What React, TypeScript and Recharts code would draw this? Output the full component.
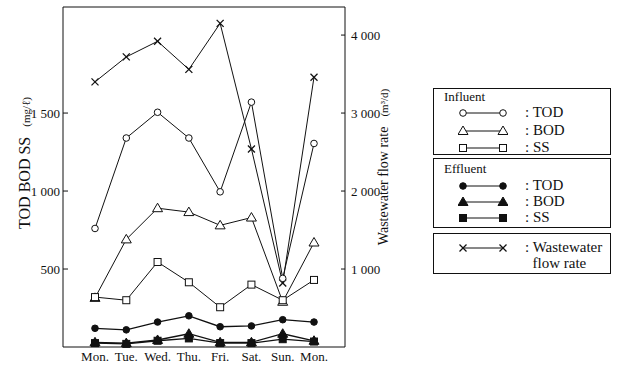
import { Legend, Line, LineChart, XAxis, YAxis } from "recharts";

const days = ["Mon.", "Tue.", "Wed.", "Thu.", "Fri.", "Sat.", "Sun.", "Mon."];
// influent (mg/l)
const inTOD = [760, 1340, 1505, 1340, 995, 1570, 440, 1305];
const inBOD = [315, 690, 890, 865, 780, 830, 290, 670];
const inSS = [320, 300, 545, 415, 255, 400, 300, 430];
// effluent (mg/l)
const effTOD = [120, 110, 160, 200, 130, 135, 175, 160];
const effBOD = [30, 25, 45, 85, 30, 30, 85, 40];
const effSS = [25, 20, 40, 55, 25, 25, 50, 35];
// wastewater flow (m3/d)
const flow = [3400, 3720, 3920, 3560, 4150, 2540, 820, 3460];

const leftTicks = [500, 1000, 1500];
const rightTicks = [1000, 2000, 3000, 4000];

const FONT = "Liberation Serif, Times New Roman, Times, DejaVu Serif, serif";
const INK = "#111";

const rows = days.map((day, i) => ({
  day,
  inTOD: inTOD[i],
  inBOD: inBOD[i],
  inSS: inSS[i],
  effTOD: effTOD[i],
  effBOD: effBOD[i],
  effSS: effSS[i],
  flow: flow[i],
}));

const fmt = (v: number) => (v >= 1000 ? `${Math.floor(v / 1000)} ${String(v % 1000).padStart(3, "0")}` : String(v));

type Shape = "circle" | "triangle" | "square" | "x";

function Marker({ cx, cy, shape, filled }: { cx: number; cy: number; shape: Shape; filled: boolean }) {
  const fill = filled ? INK : "#fff";
  if (shape === "circle") return <circle cx={cx} cy={cy} r={3.3} fill={fill} stroke={INK} strokeWidth={1} />;
  if (shape === "triangle")
    return (
      <polygon
        points={`${cx},${cy - 5} ${cx - 5},${cy + 3.5} ${cx + 5},${cy + 3.5}`}
        fill={fill}
        stroke={INK}
        strokeWidth={1}
      />
    );
  if (shape === "square") return <rect x={cx - 3.5} y={cy - 3.5} width={7} height={7} fill={fill} stroke={INK} strokeWidth={1} />;
  return (
    <g stroke={INK} strokeWidth={1.3}>
      <line x1={cx - 3.5} y1={cy - 3.5} x2={cx + 3.5} y2={cy + 3.5} />
      <line x1={cx - 3.5} y1={cy + 3.5} x2={cx + 3.5} y2={cy - 3.5} />
    </g>
  );
}

const dotFor = (shape: Shape, filled: boolean) => (p: any) =>
  <Marker key={`${shape}-${filled}-${p.index}`} cx={p.cx} cy={p.cy} shape={shape} filled={filled} />;

function LeftTitle() {
  return (
    <text transform="translate(30,163) rotate(-90)" textAnchor="middle" fontFamily={FONT} fontSize={16} fill={INK}>
      TOD BOD SS
      <tspan fontSize={11} dx={10}>
        (mg/ℓ)
      </tspan>
    </text>
  );
}

function RightTitle() {
  return (
    <text transform="translate(388,167) rotate(-90)" textAnchor="middle" fontFamily={FONT} fontSize={14} fill={INK}>
      Wastewater flow rate
      <tspan fontSize={11} dx={10}>
        (m³/d)
      </tspan>
    </text>
  );
}

function Sym({ shape, filled }: { shape: Shape; filled: boolean }) {
  return (
    <svg width={50} height={12} style={{ display: "block" }}>
      <line x1={5} y1={6} x2={45} y2={6} stroke={INK} strokeWidth={1} />
      <Marker cx={5} cy={6} shape={shape} filled={filled} />
      <Marker cx={45} cy={6} shape={shape} filled={filled} />
    </svg>
  );
}

function Row({ shape, filled, label, top }: { shape: Shape; filled: boolean; label: string; top: number }) {
  return (
    <div style={{ position: "absolute", left: 24, top, height: 15, display: "flex", alignItems: "center" }}>
      <Sym shape={shape} filled={filled} />
      <span style={{ marginLeft: 17, fontSize: 15, lineHeight: "15px" }}>: {label}</span>
    </div>
  );
}

const boxStyle = (top: number, height: number): React.CSSProperties => ({
  position: "absolute",
  left: 0,
  top,
  width: 178,
  height,
  border: `1px solid ${INK}`,
  boxSizing: "border-box",
});

function LegendBoxes() {
  return (
    <div style={{ position: "relative", width: 180, height: 190, fontFamily: FONT, color: INK, fontWeight: 400 }}>
      <div style={boxStyle(0, 67)}>
        <div style={{ position: "absolute", left: 10, top: 1, fontSize: 13, lineHeight: "14px" }}>Influent</div>
        <Row shape="circle" filled={false} label="TOD" top={16} />
        <Row shape="triangle" filled={false} label="BOD" top={34} />
        <Row shape="square" filled={false} label="SS" top={51} />
      </div>
      <div style={boxStyle(70, 70)}>
        <div style={{ position: "absolute", left: 10, top: 3, fontSize: 13, lineHeight: "14px" }}>Effluent</div>
        <Row shape="circle" filled label="TOD" top={19} />
        <Row shape="triangle" filled label="BOD" top={35} />
        <Row shape="square" filled label="SS" top={51} />
      </div>
      <div style={boxStyle(145, 41)}>
        <div style={{ position: "absolute", left: 24, top: 8, display: "flex", alignItems: "flex-start" }}>
          <Sym shape="x" filled={false} />
          <span style={{ marginLeft: 17, marginTop: -3, fontSize: 15, lineHeight: "16px" }}>
            : Wastewater
            <br />
            &nbsp;&nbsp;flow rate
          </span>
        </div>
      </div>
    </div>
  );
}

const App = () => {
  return (
    <div style={{ position: "absolute", left: 0, top: 0, width: 618, height: 372, background: "#fff" }}>
      <LineChart width={618} height={372} data={rows} margin={{ top: 6, right: 223, bottom: 0, left: 0 }}>
        <XAxis
          dataKey="day"
          padding={{ left: 32, right: 31 }}
          height={25}
          tickLine={false}
          tickSize={0}
          tickMargin={5}
          axisLine={{ stroke: INK }}
          tick={{ fill: INK, fontSize: 13, fontFamily: FONT }}
          interval={0}
        />
        <XAxis
          xAxisId="top"
          orientation="top"
          dataKey="day"
          padding={{ left: 32, right: 31 }}
          height={1}
          tick={false}
          tickSize={-3}
          axisLine={{ stroke: INK }}
          tickLine={{ stroke: INK }}
        />
        <YAxis
          yAxisId="left"
          width={63}
          domain={[0, 2180]}
          ticks={leftTicks}
          tickFormatter={fmt}
          tickSize={-5}
          tickMargin={8}
          axisLine={{ stroke: INK }}
          tickLine={{ stroke: INK }}
          tick={{ fill: INK, fontSize: 13, fontFamily: FONT }}
          label={<LeftTitle />}
        />
        <YAxis
          yAxisId="right"
          orientation="right"
          width={50}
          domain={[0, 4360]}
          ticks={rightTicks}
          tickFormatter={fmt}
          tickSize={-4}
          tickMargin={10}
          axisLine={{ stroke: INK }}
          tickLine={{ stroke: INK }}
          tick={{ fill: INK, fontSize: 13, fontFamily: FONT }}
          label={<RightTitle />}
        />
        <Legend
          layout="vertical"
          align="center"
          verticalAlign="middle"
          content={() => <LegendBoxes />}
          wrapperStyle={{ position: "absolute", left: 433, top: 88, width: 180 }}
        />
        <Line yAxisId="right" dataKey="flow" stroke={INK} strokeWidth={1} dot={dotFor("x", false)} isAnimationActive={false} />
        <Line yAxisId="left" dataKey="inTOD" stroke={INK} strokeWidth={1} dot={dotFor("circle", false)} isAnimationActive={false} />
        <Line yAxisId="left" dataKey="inBOD" stroke={INK} strokeWidth={1} dot={dotFor("triangle", false)} isAnimationActive={false} />
        <Line yAxisId="left" dataKey="inSS" stroke={INK} strokeWidth={1} dot={dotFor("square", false)} isAnimationActive={false} />
        <Line yAxisId="left" dataKey="effTOD" stroke={INK} strokeWidth={1.3} dot={dotFor("circle", true)} isAnimationActive={false} />
        <Line yAxisId="left" dataKey="effBOD" stroke={INK} strokeWidth={1.3} dot={dotFor("triangle", true)} isAnimationActive={false} />
        <Line yAxisId="left" dataKey="effSS" stroke={INK} strokeWidth={1.3} dot={dotFor("square", true)} isAnimationActive={false} />
      </LineChart>
    </div>
  );
};

export default App;
